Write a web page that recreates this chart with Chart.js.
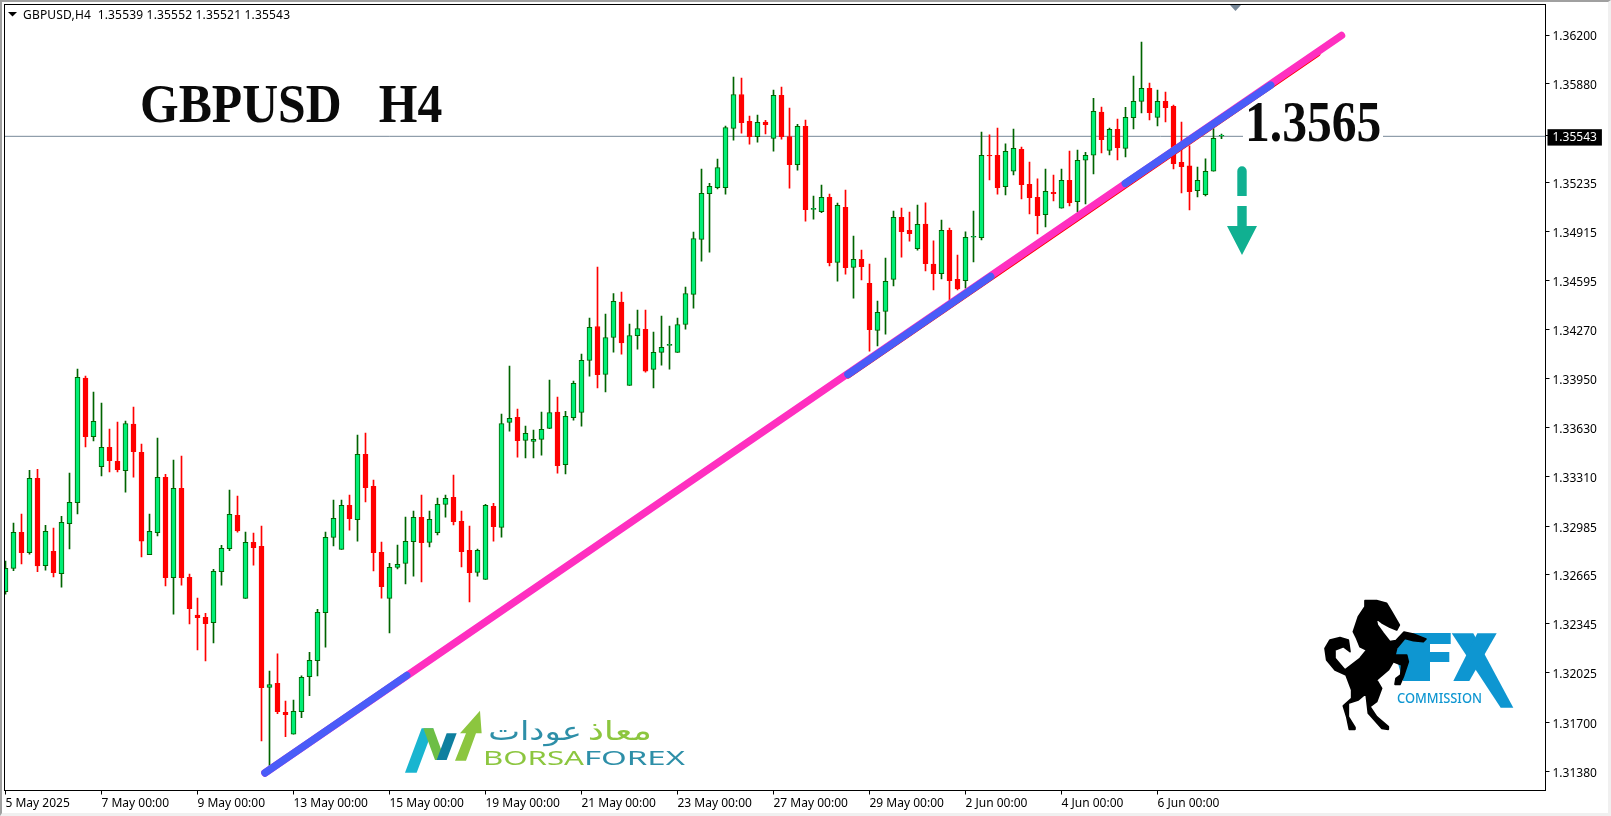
<!DOCTYPE html>
<html>
<head>
<meta charset="UTF-8">
<title>GBPUSD H4</title>
<script src="https://cdnjs.cloudflare.com/ajax/libs/Chart.js/4.4.1/chart.umd.min.js"></script>
<style>
  * { margin: 0; padding: 0; box-sizing: border-box; }
  html, body { width: 1611px; height: 816px; overflow: hidden; background: #fff; }
  #chart { position: absolute; left: 0; top: 0; }
  .frame { position: absolute; left: 0; top: 0; width: 1611px; height: 816px; pointer-events: none;
    border-top: 2px solid #a0a0a0; border-left: 2px solid #a0a0a0; border-right: 3px solid #f0f0f0; border-bottom: 3px solid #f0f0f0; }
  .header { position: absolute; left: 23px; top: 6px; font: 12px "Noto Sans", sans-serif; letter-spacing: .18px; color: #000; white-space: pre; }
  .title { position: absolute; left: 140px; top: 73px; font: bold 54px "Liberation Serif", serif; color: #0a0a0a; white-space: pre;
    transform: scaleX(.92); transform-origin: left top; }
  .gap { position: absolute; left: 1243px; top: 130px; width: 140px; height: 14px; background: #fff; }
  .level { position: absolute; left: 1245px; top: 90px; font: bold 57px/64px "Liberation Serif", serif; color: #0a0a0a; white-space: pre;
    transform: scaleX(.87); transform-origin: left top; }
  svg.deco { position: absolute; left: 0; top: 0; }
</style>
</head>
<body>
<canvas id="chart" width="1611" height="816"></canvas>
<svg class="deco" width="1611" height="816" viewBox="0 0 1611 816">
  <polygon points="8,12 17,12 12.5,16.5" fill="#000"/>
  <polygon points="1230,5 1241,5 1235.5,11" fill="#778899"/>
  <!-- down arrow -->
  <path d="M1237.3 196V171a4.7 4.7 0 0 1 9.4 0V196Z" fill="#10b091"/>
  <polygon points="1237.3,206 1246.7,206 1246.7,226 1257,226 1242,255 1227,226 1237.3,226" fill="#10b091"/>
  <!-- BorsaForex logo -->
  <g transform="translate(390,700) scale(.3333)">
    <polygon points="45,218 95,85 130,85 80,218" fill="#19b5d0"/>
    <polygon points="100,85 130,85 165,180 135,180" fill="#6dbe45"/>
    <polygon points="140,180 170,100 200,100 170,180" fill="#0e7f9f"/>
    <polygon points="195,182 228,100 210,100 270,32 275,100 258,100 228,182" fill="#8cc63f"/>
  </g>
  <text x="483" y="765" font-family="Noto Sans" font-size="20" textLength="101" lengthAdjust="spacingAndGlyphs" fill="#8cc63f">BORSA</text>
  <text x="584" y="765" font-family="Noto Sans" font-size="20" textLength="101" lengthAdjust="spacingAndGlyphs" fill="#2e8fa8">FOREX</text>
  <text transform="translate(652,740) scale(1.4,1)" text-anchor="start" direction="rtl" font-family="DejaVu Sans" font-size="26" fill="#8cc63f">معاذ</text>
  <text transform="translate(582,740) scale(1.3,1)" text-anchor="start" direction="rtl" font-family="DejaVu Sans" font-size="26" fill="#2e8fa8">عودات</text>
  <!-- FX Commission logo -->
  <polygon points="1405,633 1450.7,633 1450.7,644 1430,644 1430,652 1449.3,652 1449.3,662 1430,662 1430,681 1403,681 1395,653" fill="#0e96d1"/>
  <polygon points="1451.7,633.3 1473.3,633.3 1513.3,707.7 1500.7,707.7" fill="#0e96d1"/>
  <polygon points="1453.3,681 1477.3,633.3 1496.7,633.3 1469.3,681" fill="#0e96d1"/>
  <text x="1397" y="703" font-family="Noto Sans" font-weight="500" font-size="14" textLength="85" lengthAdjust="spacingAndGlyphs" fill="#0e96d1">COMMISSION</text>
  <g transform="translate(1280,570) scale(.3333)">
    <path d="M255 92L290 92L320 100L335 125L358 165L350 180L330 172L305 158L288 145L292 165L310 190L330 215L348 212L372 186L400 192L438 207L430 215L400 212L375 205L350 235L345 255L380 255L385 275L370 320L360 343L345 343L348 325L362 315L365 285L340 275L325 300L290 330L305 355L290 395L270 410L290 440L325 470L325 478L305 475L265 430L258 370L235 390L205 400L205 440L225 472L225 478L208 478L200 440L190 408L215 385L215 360L198 315L165 300L140 270L135 235L150 210L180 203L205 210L210 245L190 230L165 240L165 265L195 300L240 265L260 240L240 230L230 205L220 185L235 140L255 110Z" fill="#000" stroke="#000" stroke-width="5" stroke-linejoin="round"/>
  </g>
</svg>
<div class="header">GBPUSD,H4  1.35539 1.35552 1.35521 1.35543</div>
<div class="title">GBPUSD   H4</div>
<div class="gap"></div>
<div class="level">1.3565</div>
<div class="frame"></div>
<script>
const xTickLabels = ['5 May 2025', '7 May 00:00', '9 May 00:00', '13 May 00:00', '15 May 00:00', '19 May 00:00', '21 May 00:00',
  '23 May 00:00', '27 May 00:00', '29 May 00:00', '2 Jun 00:00', '4 Jun 00:00', '6 Jun 00:00'];
const yTickValues = [1.36200, 1.35880, 1.35543, 1.35235, 1.34915, 1.34595, 1.34270, 1.33950, 1.33630, 1.33310, 1.32985, 1.32665, 1.32345, 1.32025, 1.31700, 1.31380];
const lastPrice = 1.35543;
const priceLine = 1.35537;

const opens = [
  1.32556,1.32708,1.32944,1.32811,1.33297,1.32726,1.32820,1.32673,1.33001,1.33138,
  1.33954,1.33570,1.33374,1.33500,1.33409,1.33348,1.33653,1.33468,1.32798,1.32942,
  1.33304,1.32647,1.33232,1.32649,1.32403,1.32388,1.32353,1.32687,1.32837,1.33055,
  1.32512,1.32879,1.32852,1.31929,1.31956,1.31766,1.31622,1.31770,1.31999,1.32104,
  1.32418,1.32911,1.32833,1.33121,1.33027,1.33455,1.33245,1.32813,1.32512,1.32715,
  1.32741,1.32883,1.33042,1.32879,1.32942,1.33127,1.33173,1.33016,1.32826,1.32682,
  1.32636,1.33114,1.32977,1.33664,1.33697,1.33546,1.33540,1.33553,1.33625,1.33732,
  1.33387,1.33695,1.33729,1.34070,1.34292,1.33978,1.34220,1.34452,1.33906,1.34231,
  1.34273,1.34011,1.34122,1.34168,1.34122,1.34305,1.34502,1.34862,1.35161,1.35200,
  1.35200,1.35589,1.35811,1.35635,1.35534,1.35630,1.35523,1.35805,1.35536,1.35351,
  1.35602,1.35058,1.35043,1.35137,1.34712,1.35072,1.34679,1.34731,1.34574,1.34266,
  1.34391,1.34600,1.35006,1.34921,1.34801,1.34963,1.34701,1.34638,1.34922,1.34601,
  1.34592,1.34876,1.34874,1.35413,1.35413,1.35207,1.35308,1.35452,1.35223,1.35138,
  1.35024,1.35170,1.35066,1.35249,1.35109,1.35380,1.35413,1.35696,1.35445,1.35583,
  1.35458,1.35659,1.35766,1.35851,1.35661,1.35766,1.35733,1.35367,1.35343,1.35181,
  1.35155,1.35308,1.35539];
const highs = [
  1.32756,1.33005,1.33064,1.33350,1.33356,1.32990,1.32972,1.33049,1.33332,1.34013,
  1.33967,1.33863,1.33791,1.33620,1.33666,1.33673,1.33764,1.33522,1.33064,1.33561,
  1.33324,1.33417,1.33444,1.32671,1.32514,1.32414,1.32702,1.32859,1.33221,1.33182,
  1.32946,1.32940,1.32985,1.32036,1.32148,1.31840,1.31846,1.32004,1.32158,1.32440,
  1.32946,1.33156,1.33156,1.33188,1.33581,1.33594,1.33287,1.32881,1.32741,1.32861,
  1.33044,1.33084,1.33188,1.33084,1.33169,1.33188,1.33319,1.33084,1.32985,1.32835,
  1.33127,1.33134,1.33719,1.34033,1.33751,1.33640,1.33614,1.33732,1.33941,1.33830,
  1.33736,1.33935,1.34111,1.34347,1.34681,1.34373,1.34508,1.34517,1.34308,1.34399,
  1.34399,1.34255,1.34360,1.34295,1.34347,1.34550,1.34910,1.35322,1.35229,1.35388,
  1.35604,1.35925,1.35918,1.35669,1.35676,1.35641,1.35840,1.35859,1.35722,1.35615,
  1.35643,1.35146,1.35218,1.35159,1.35100,1.35185,1.34884,1.34792,1.34701,1.34458,
  1.34740,1.35048,1.35067,1.35041,1.35087,1.35101,1.34852,1.34989,1.34937,1.34760,
  1.34911,1.35048,1.35565,1.35546,1.35591,1.35487,1.35585,1.35467,1.35369,1.35258,
  1.35323,1.35284,1.35323,1.35441,1.35447,1.35432,1.35786,1.35729,1.35591,1.35650,
  1.35727,1.35932,1.36154,1.35886,1.35840,1.35827,1.35742,1.35631,1.35474,1.35336,
  1.35389,1.35587,1.35552];
const lows = [
  1.32540,1.32693,1.32737,1.32802,1.32687,1.32697,1.32652,1.32586,1.32835,1.33064,
  1.33503,1.33542,1.33313,1.33339,1.33339,1.33208,1.33306,1.32783,1.32798,1.32920,
  1.32593,1.32409,1.32599,1.32344,1.32174,1.32102,1.32220,1.32599,1.32824,1.32946,
  1.32512,1.32730,1.31578,1.31395,1.31757,1.31606,1.31622,1.31731,1.31875,1.32004,
  1.32193,1.32855,1.32833,1.32959,1.32887,1.33143,1.32691,1.32514,1.32285,1.32704,
  1.32606,1.32658,1.32619,1.32848,1.32927,1.33044,1.32992,1.32717,1.32488,1.32658,
  1.32636,1.32887,1.32913,1.33607,1.33437,1.33431,1.33431,1.33450,1.33623,1.33332,
  1.33326,1.33679,1.33640,1.33967,1.33889,1.33863,1.34124,1.34111,1.33906,1.34144,
  1.33993,1.33889,1.34039,1.34013,1.34122,1.34275,1.34412,1.34720,1.34779,1.35192,
  1.35159,1.35512,1.35558,1.35486,1.35499,1.35552,1.35440,1.35519,1.35198,1.35316,
  1.34982,1.34995,1.35037,1.34688,1.34589,1.34635,1.34478,1.34596,1.34131,1.34164,
  1.34242,1.34557,1.34746,1.34851,1.34792,1.34655,1.34531,1.34603,1.34466,1.34531,
  1.34542,1.34714,1.34858,1.35251,1.35159,1.35153,1.35284,1.35127,1.35029,1.34898,
  1.34943,1.35114,1.35066,1.35081,1.35044,1.35094,1.35290,1.35428,1.35415,1.35382,
  1.35402,1.35585,1.35690,1.35644,1.35605,1.35631,1.35323,1.35166,1.35055,1.35140,
  1.35146,1.35308,1.35521];
const closes = [
  1.32708,1.32944,1.32811,1.33297,1.32724,1.32951,1.32680,1.33009,1.33140,1.33959,
  1.33570,1.33671,1.33500,1.33413,1.33354,1.33657,1.33472,1.32887,1.32951,1.33304,
  1.32647,1.33232,1.32647,1.32444,1.32385,1.32346,1.32689,1.32839,1.33062,1.32953,
  1.32879,1.32844,1.31927,1.31947,1.31770,1.31750,1.31772,1.31995,1.32106,1.32420,
  1.32911,1.33036,1.33121,1.33033,1.33455,1.33236,1.32811,1.32588,1.32715,1.32735,
  1.32885,1.33042,1.32876,1.33029,1.33127,1.33167,1.33014,1.32817,1.32680,1.32826,
  1.33121,1.32981,1.33657,1.33690,1.33544,1.33592,1.33553,1.33618,1.33729,1.33380,
  1.33703,1.33919,1.34070,1.34286,1.33976,1.34220,1.34456,1.34185,1.34233,1.34279,
  1.34000,1.34122,1.34155,1.34175,1.34305,1.34508,1.34868,1.35163,1.35209,1.35333,
  1.35595,1.35811,1.35626,1.35534,1.35628,1.35613,1.35805,1.35534,1.35351,1.35602,
  1.35056,1.35065,1.35137,1.34709,1.35085,1.34677,1.34731,1.34683,1.34271,1.34384,
  1.34587,1.35006,1.34912,1.34899,1.34960,1.34703,1.34638,1.34922,1.34592,1.34538,
  1.34876,1.34882,1.35413,1.35408,1.35201,1.35439,1.35458,1.35221,1.35135,1.35018,
  1.35177,1.35162,1.35249,1.35103,1.35380,1.35413,1.35701,1.35515,1.35583,1.35463,
  1.35661,1.35766,1.35851,1.35692,1.35766,1.35725,1.35358,1.35338,1.35175,1.35249,
  1.35308,1.35524,1.35543];

// trend lines, x in candle index
const trendX = [32.44, 167.0];
const trendY = [1.31369, 1.36197];
const blueX = [[32.44, 50.15], [105.31, 123.15], [139.98, 158.15]];
const blueY = [[1.31369, 1.32007], [1.33979, 1.34619], [1.35229, 1.35872]];
const redX = [105.31, 163.9];
const redY = [1.33976, 1.36079];

const UP_FILL = '#00ee76', UP_LINE = '#006400', DOWN = '#ff0000';
const isUp = i => closes[i] >= opens[i];
const xMin = -0.125, xMax = 192.5;

function lineSet(xs, ys, color, order, width) {
  return {
    type: 'line', order, borderColor: color, borderWidth: width, pointRadius: 0,
    borderCapStyle: 'round', data: xs.map((x, k) => ({ x, y: ys[k] }))
  };
}

const datasets = [
  lineSet([xMin, xMax], [priceLine, priceLine], '#778899', 10, 1),
  {
    type: 'bar', order: 5, barThickness: 1, grouped: false,
    data: opens.map((_, i) => ({ x: i, y: [lows[i], highs[i]] })),
    backgroundColor: opens.map((_, i) => isUp(i) ? UP_LINE : DOWN),
    borderWidth: 0
  },
  {
    type: 'bar', order: 4, barThickness: 5, grouped: false,
    data: opens.map((_, i) => ({ x: i, y: [opens[i], closes[i]] })),
    backgroundColor: opens.map((_, i) => isUp(i) ? UP_FILL : DOWN),
    borderColor: opens.map((_, i) => isUp(i) ? UP_LINE : DOWN),
    borderWidth: 1, borderSkipped: false
  },
  lineSet(redX, redY, '#ff0000', 3.5, 7.5),
  lineSet(trendX, trendY, '#ff2fc0', 3, 7.5),
  ...blueX.map((xs, k) => lineSet(xs, blueY[k], '#4a5cf8', 2, 7.5))
];

const plotBox = {
  id: 'plotBox',
  afterDraw(chart) {
    const { ctx, chartArea: a } = chart;
    ctx.save();
    ctx.strokeStyle = '#000';
    ctx.lineWidth = 1;
    ctx.strokeRect(a.left, a.top, a.right - a.left, a.bottom - a.top);
    ctx.restore();
  }
};

// the axes ask for label room inside the plot box, the original has none
function noPadding(axis) {
  axis.paddingLeft = axis.paddingRight = axis.paddingTop = axis.paddingBottom = 0;
}

new Chart(document.getElementById('chart'), {
  data: { datasets },
  plugins: [plotBox],
  options: {
    responsive: false,
    animation: false,
    layout: { padding: { left: 4.5, top: 4.5, right: 0, bottom: 0 } },
    plugins: { legend: { display: false }, tooltip: { enabled: false } },
    scales: {
      x: {
        type: 'linear', min: xMin, max: xMax, offset: false,
        grid: { drawOnChartArea: false, tickLength: 4, tickColor: '#000', offset: false },
        border: { color: '#000' },
        afterBuildTicks: axis => { axis.ticks = xTickLabels.map((_, k) => ({ value: k * 12 })); },
        afterFit: axis => { axis.height = 25.5; noPadding(axis); },
        ticks: {
          autoSkip: false, maxRotation: 0, align: 'start', padding: 2, color: '#000',
          font: { family: 'Noto Sans', size: 12 },
          callback: v => xTickLabels[v / 12]
        }
      },
      y: {
        type: 'linear', position: 'right', min: 1.31254, max: 1.36400,
        grid: { drawOnChartArea: false, tickLength: 4, tickColor: '#000' },
        border: { color: '#000' },
        afterBuildTicks: axis => { axis.ticks = yTickValues.map(value => ({ value })); },
        afterFit: axis => { axis.width = 65.5; noPadding(axis); },
        ticks: {
          autoSkip: false, padding: 3, labelOffset: 2,
          font: { family: 'Noto Sans', size: 12 },
          callback: v => v.toFixed(5),
          color: c => c.tick && c.tick.value === lastPrice ? '#fff' : '#000',
          showLabelBackdrop: true,
          backdropPadding: { top: 1, bottom: 1, left: 5, right: 5 },
          backdropColor: c => c.tick && c.tick.value === lastPrice ? '#000' : 'rgba(0,0,0,0)'
        }
      }
    }
  }
});
</script>
</body>
</html>
